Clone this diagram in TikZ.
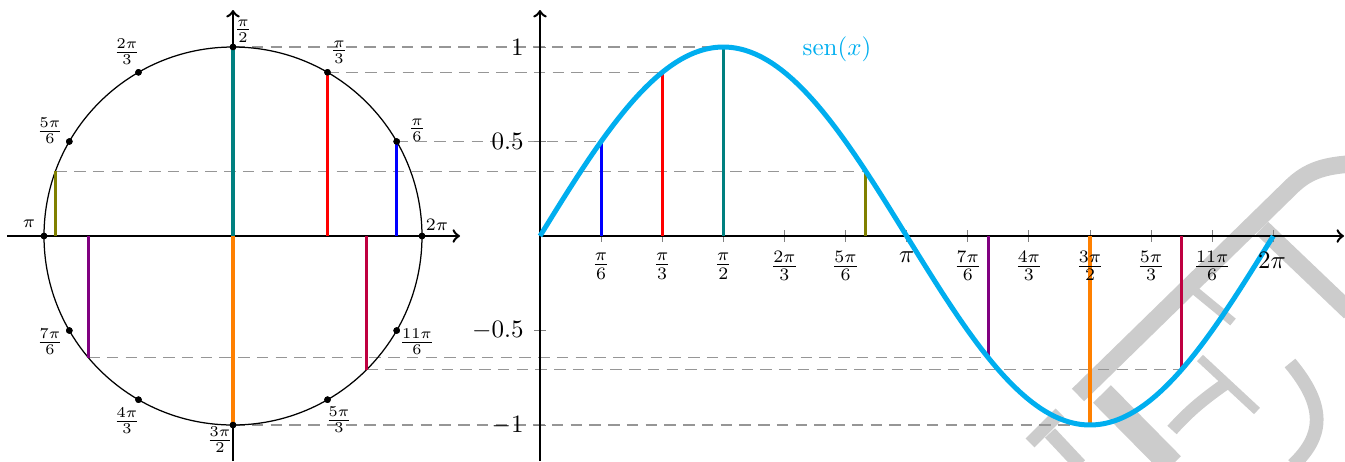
\documentclass[tikz,border=0pt]{standalone}
\definecolor{sinecol}{RGB}{0,174,239}
\definecolor{dashcol}{RGB}{150,150,150}
\definecolor{wmcol}{RGB}{204,204,204}
\definecolor{cteal}{rgb}{0,0.5,0.5}
\definecolor{colive}{rgb}{0.5,0.5,0}
\definecolor{cviolet}{rgb}{0.5,0,0.5}
\definecolor{cpurple}{rgb}{0.75,0,0.25}
\definecolor{corange}{rgb}{1,0.5,0}
\begin{document}
\begin{tikzpicture}[x=0.4pt,y=-0.4pt,
  ax/.style={line width=1pt,->},
  circ/.style={line width=0.5pt},
  dotnode/.style={circle,fill=black,inner sep=0pt,minimum size=2.6pt},
  guide/.style={draw=dashcol,line width=0.5pt,dash pattern=on 4.6pt off 2.9pt},
  seg/.style={line width=1.25pt},
  sine/.style={draw=sinecol,line width=2pt},
  tickmark/.style={draw=gray,line width=0.4pt},
  lbl/.style={inner sep=0pt,anchor=center},
  clbl/.style={inner sep=0pt,anchor=center,font=\footnotesize},
  ylbl/.style={inner sep=0pt,anchor=east},
  wm/.style={draw=wmcol,line cap=butt}
]
\useasboundingbox (0,0) rectangle (1345,461);
\begin{scope}
\clip (0,0) rectangle (1345,461);
% watermark
\draw[wm,line width=7pt] (1078,395) -- (1290,188) .. controls (1305,173) and (1320,166) .. (1350,164);
\draw[wm,line width=10pt] (1102,394) -- (1172,465);
\draw[wm,line width=5pt] (1172,430) .. controls (1190,410) and (1205,398) .. (1228,382);
\draw[wm,line width=3.5pt] (1200,358) -- (1257,411);
\draw[wm,line width=3.5pt] (1188,285) -- (1233,322);
\draw[wm,line width=7pt] (1262,228) -- (1350,312);
\draw[wm,line width=5.5pt] (1290,363) .. controls (1325,405) and (1325,435) .. (1293,465);
\draw[wm,line width=5pt] (1030,443) -- (1060,413);
\draw[wm,line width=5.5pt] (1050,433) -- (1080,465);
\end{scope}

% circle points
\node[dotnode] (p30)  at (396.68,141.5) {};
\node[dotnode] (p60)  at (327.5,72.32) {};
\node[dotnode] (p90)  at (233,47) {};
\node[dotnode] (p120) at (138.5,72.32) {};
\node[dotnode] (p150) at (69.32,141.5) {};
\node[dotnode] (p180) at (44,236) {};
\node[dotnode] (p210) at (69.32,330.5) {};
\node[dotnode] (p240) at (138.5,399.68) {};
\node[dotnode] (p270) at (233,425) {};
\node[dotnode] (p300) at (327.5,399.68) {};
\node[dotnode] (p330) at (396.68,330.5) {};
\node[dotnode] (p360) at (422,236) {};
\coordinate (p160) at (55.4,171.36);
\coordinate (p220) at (88.22,357.49);
\coordinate (p315) at (366.64,369.64);

% feet on circle axis
\coordinate (f30) at (396.68,236);
\coordinate (f60) at (327.5,236);
\coordinate (f90) at (233,236);
\coordinate (f160) at (55.4,236);
\coordinate (f220) at (88.22,236);
\coordinate (f270) at (233,236);
\coordinate (f315) at (366.64,236);

% graph points
\coordinate (g30) at (601.1,141.5);
\coordinate (g60) at (662.2,72.32);
\coordinate (g90) at (723.3,47);
\coordinate (g160) at (865.9,171.36);
\coordinate (g220) at (988.1,357.49);
\coordinate (g270) at (1090,425);
\coordinate (g315) at (1181.6,369.64);
\coordinate (h30) at (601.1,236);
\coordinate (h60) at (662.2,236);
\coordinate (h90) at (723.3,236);
\coordinate (h160) at (865.9,236);
\coordinate (h220) at (988.1,236);
\coordinate (h270) at (1090,236);
\coordinate (h315) at (1181.6,236);

% dashed guides
\draw[guide] (p90.center) -- (g90);
\draw[guide] (p60.center) -- (g60);
\draw[guide] (p30.center) -- (g30);
\draw[guide] (p160) -- (g160);
\draw[guide] (p220) -- (g220);
\draw[guide] (p315) -- (g315);
\draw[guide] (p270.center) -- (g270);

% graph ticks
\foreach \k in {1,...,12} {
  \coordinate (tk\k) at ({540+61.111*\k},236);
  \draw[tickmark] ([yshift=6*0.4pt]tk\k) -- ([yshift=-6*0.4pt]tk\k);
}
\foreach \v/\n in {47/a,141.5/b,330.5/c,425/d} {
  \coordinate (ty\n) at (540,\v);
  \draw[tickmark] ([xshift=-6*0.4pt]ty\n) -- ([xshift=6*0.4pt]ty\n);
}

% axes
\coordinate (cxl) at (7,236);
\coordinate (cxr) at (460,236);
\coordinate (cyb) at (233,461);
\coordinate (cyt) at (233,10);
\coordinate (gxl) at (540,236);
\coordinate (gxr) at (1344,236);
\coordinate (gyb) at (540,461);
\coordinate (gyt) at (540,10);
\draw[ax] (cxl) -- (cxr);
\draw[ax] (cyb) -- (cyt);
\draw[ax] (gxl) -- (gxr);
\draw[ax] (gyb) -- (gyt);

% unit circle
\draw[circ] (233,236) circle[radius=189];

% coloured segments, circle
\draw[seg,blue] (f30) -- (p30.center);
\draw[seg,red] (f60) -- (p60.center);
\draw[seg,cteal] (f90) -- (p90.center);
\draw[seg,colive] (f160) -- (p160);
\draw[seg,cviolet] (f220) -- (p220);
\draw[seg,corange] (f270) -- (p270.center);
\draw[seg,cpurple] (f315) -- (p315);

% coloured segments, graph
\draw[seg,blue] (h30) -- (g30);
\draw[seg,red] (h60) -- (g60);
\draw[seg,cteal] (h90) -- (g90);
\draw[seg,colive] (h160) -- (g160);
\draw[seg,cviolet] (h220) -- (g220);
\draw[seg,corange] (h270) -- (g270);
\draw[seg,cpurple] (h315) -- (g315);

% redraw dots on top
\foreach \n in {p30,p60,p90,p120,p150,p180,p210,p240,p270,p300,p330,p360}
  \fill (\n) circle[radius=3.3];

% sine curve
\draw[sine] plot[domain=0:6.2832,samples=120,smooth] ({540+116.7*\x},{236-189*sin(\x r)});
\node[lbl,text=sinecol] (sen) at (837,49) {sen$(x)$};

% circle labels
\node[clbl] (l90)  at (243,31) {$\frac{\pi}{2}$};
\node[clbl] (l60)  at (339,52) {$\frac{\pi}{3}$};
\node[clbl] (l120) at (127,52) {$\frac{2\pi}{3}$};
\node[clbl] (l30)  at (417,130) {$\frac{\pi}{6}$};
\node[clbl] (l150) at (50,131) {$\frac{5\pi}{6}$};
\node[lbl,font=\scriptsize] (l180) at (29,224) {$\pi$};
\node[lbl,font=\scriptsize] (l360) at (437,225) {$2\pi$};
\node[clbl] (l210) at (50,342) {$\frac{7\pi}{6}$};
\node[clbl] (l240) at (127,421) {$\frac{4\pi}{3}$};
\node[clbl] (l270) at (220,440) {$\frac{3\pi}{2}$};
\node[clbl] (l300) at (339,420) {$\frac{5\pi}{3}$};
\node[clbl] (l330) at (417,342) {$\frac{11\pi}{6}$};

% graph x labels
\node[lbl] (x1)  at (601.1,266) {$\frac{\pi}{6}$};
\node[lbl] (x2)  at (662.2,266) {$\frac{\pi}{3}$};
\node[lbl] (x3)  at (723.3,266) {$\frac{\pi}{2}$};
\node[lbl] (x4)  at (784.4,266) {$\frac{2\pi}{3}$};
\node[lbl] (x5)  at (845.6,266) {$\frac{5\pi}{6}$};
\node[lbl] (x6)  at (906.7,257) {$\pi$};
\node[lbl] (x7)  at (967.8,266) {$\frac{7\pi}{6}$};
\node[lbl] (x8)  at (1028.9,266) {$\frac{4\pi}{3}$};
\node[lbl] (x9)  at (1090,266) {$\frac{3\pi}{2}$};
\node[lbl] (x10) at (1151.1,266) {$\frac{5\pi}{3}$};
\node[lbl] (x11) at (1212.2,266) {$\frac{11\pi}{6}$};
\node[lbl] (x12) at (1272,260) {$2\pi$};

% graph y labels
\node[ylbl] (y1) at (524,47) {$1$};
\node[ylbl] (y2) at (524,141.5) {$0.5$};
\node[ylbl] (y3) at (524,330.5) {$-0.5$};
\node[ylbl] (y4) at (524,425) {$-1$};
\end{tikzpicture}
\end{document}
